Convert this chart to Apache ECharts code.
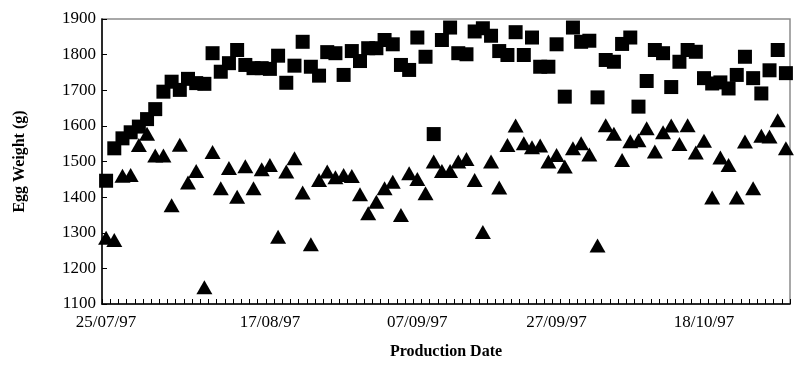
<!DOCTYPE html>
<html>
<head>
<meta charset="utf-8">
<script src="https://cdn.jsdelivr.net/npm/echarts@6/dist/echarts.min.js"></script>
<style>
  html, body { margin: 0; padding: 0; background: #fff; }
  #chart { width: 799px; height: 385px; }
</style>
</head>
<body>
<div id="chart"></div>
<script>
// one value per sample (84 samples, 25/07/97 onwards)
const squareWeights = [
  1446, 1537, 1565, 1582, 1598, 1619, 1647, 1696, 1724, 1701, 1732, 1720,
  1718, 1804, 1752, 1776, 1813, 1771, 1762, 1762, 1760, 1797, 1721, 1769,
  1836, 1766, 1741, 1807, 1804, 1743, 1810, 1782, 1818, 1818, 1841, 1829,
  1771, 1757, 1848, 1794, 1577, 1841, 1876, 1804, 1801, 1865, 1874, 1853,
  1810, 1799, 1863, 1799, 1848, 1766, 1766, 1829, 1682, 1876, 1836, 1839,
  1680, 1785, 1780, 1830, 1848, 1654, 1726, 1813, 1804, 1709, 1780, 1813,
  1808, 1734, 1719, 1722, 1705, 1743, 1794, 1734, 1691, 1756, 1813, 1748
];
const triangleWeights = [
  1286, 1280, 1460, 1462, 1546, 1578, 1517, 1517, 1377, 1547, 1441, 1473,
  1147, 1527, 1425, 1482, 1401, 1487, 1425, 1478, 1490, 1289, 1472, 1509,
  1413, 1268, 1448, 1472, 1456, 1462, 1459, 1408, 1355, 1387, 1425, 1443,
  1350, 1467, 1451, 1411, 1500, 1473, 1473, 1500, 1507, 1448, 1302, 1500,
  1427, 1546, 1601, 1551, 1540, 1545, 1500, 1518, 1486, 1537, 1551, 1520,
  1264, 1602, 1578, 1504, 1557, 1560, 1593, 1528, 1582, 1601, 1549, 1602,
  1525, 1558, 1399, 1511, 1490, 1399, 1556, 1425, 1572, 1570, 1616, 1537
];
// date labels and the sample they sit under
const tickLabels = ['25/07/97', '17/08/97', '07/09/97', '27/09/97', '18/10/97'];
const tickSamples = [0, 20, 38, 55, 73];

const samples = squareWeights.map((_, i) => String(i));

const chart = echarts.init(document.getElementById('chart'));
const font = '"Liberation Serif", "Times New Roman", serif';

chart.setOption({
  animation: false,
  grid: {
    left: 102, right: 9, top: 19, bottom: 81,
    show: true, borderColor: '#8c8c8c', borderWidth: 1.5
  },
  xAxis: {
    type: 'category',
    data: samples,
    boundaryGap: true,
    name: 'Production Date',
    nameLocation: 'middle',
    nameGap: 40,
    nameTextStyle: { fontFamily: font, fontWeight: 'bold', fontSize: 16, color: '#000' },
    axisLine: { lineStyle: { color: '#000', width: 1.5 } },
    axisTick: { show: true, interval: 0, inside: true, length: 5, lineStyle: { color: '#000', width: 1 } },
    axisLabel: {
      interval: (index) => tickSamples.includes(index),
      formatter: (value, index) => {
        const k = tickSamples.indexOf(index);
        return k >= 0 ? tickLabels[k] : '';
      },
      margin: 10,
      fontFamily: font, fontSize: 17, color: '#000'
    },
    splitLine: { show: false }
  },
  yAxis: {
    type: 'value',
    min: 1100, max: 1900, interval: 100,
    name: 'Egg Weight (g)',
    nameLocation: 'middle',
    nameGap: 74,
    nameTextStyle: { fontFamily: font, fontWeight: 'bold', fontSize: 16, color: '#000' },
    axisLine: { show: true, lineStyle: { color: '#000', width: 1.5 } },
    axisTick: { show: true, inside: true, length: 5, lineStyle: { color: '#000', width: 1 } },
    axisLabel: { margin: 6, fontFamily: font, fontSize: 17, color: '#000', formatter: (v) => String(v) },
    splitLine: { show: false }
  },
  series: [
    {
      type: 'scatter',
      data: squareWeights,
      symbol: 'rect',
      symbolSize: 14,
      itemStyle: { color: '#000', opacity: 1 }
    },
    {
      type: 'scatter',
      data: triangleWeights,
      symbol: 'triangle',
      symbolSize: [16, 14],
      itemStyle: { color: '#000', opacity: 1 }
    }
  ]
});
</script>
</body>
</html>
